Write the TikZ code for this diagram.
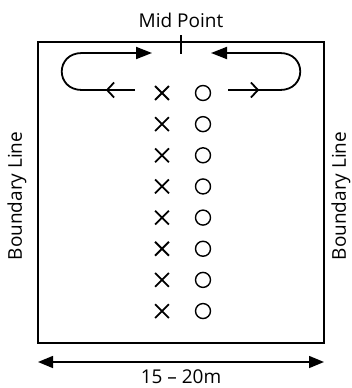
\documentclass[tikz,border=0pt]{standalone}
\usepackage{fontspec}
\setmainfont{Open Sans}
\usetikzlibrary{arrows.meta,shapes.misc,decorations.markings}

\tikzset{
  label/.style={font=\fontsize{19}{21}\selectfont, inner sep=0pt},
  player/.style={cross out, draw, line width=1.8pt, minimum size=12pt, inner sep=0pt},
  cone/.style={circle, draw, line width=1.4pt, minimum size=15pt, inner sep=0pt},
  run/.style={line width=1.8pt, -{Triangle[length=16pt,width=12pt]}},
  back/.style={line width=1.8pt, postaction={decorate}, decoration={markings,
    mark=at position #1 with {\arrow{Straight Barb[length=7pt,width=15pt,line width=1.8pt]}}}},
  measure/.style={line width=1.5pt, {Triangle[length=15pt,width=12pt]}-{Triangle[length=15pt,width=12pt]}}
}

\begin{document}
\begin{tikzpicture}[x=1pt,y=-1pt]
\useasboundingbox (0,0) rectangle (352,388);

% field
\draw [line width=2.6pt] (38,42) rectangle (324,343);
\node [label] (mid) at (181,20) {Mid Point};
\draw [line width=2pt] (181,35) -- (181,54);
\node [label, rotate=90] (bl) at (17,196) {Boundary Line};
\node [label, rotate=90] (br) at (341,196) {Boundary Line};

% two lines of players
\foreach \i in {0,...,7} {
	\node [player] (x\i) at (162,93+31.15*\i) {};
	\node [cone] (o\i) at (203,93+31.15*\i) {};
}

% runs round to the mid point
\coordinate (ls) at (135,90);
\coordinate (lt) at (152,53);
\coordinate (rs) at (228,90);
\coordinate (rt) at (211,53);
\draw [back=0.55] (ls) -- (82,90);
\draw [run] (82,90) .. controls (55,90) and (55,53) .. (82,53) -- (lt);
\draw [back=0.6] (rs) -- (280,90);
\draw [run] (280,90) .. controls (307,90) and (307,53) .. (280,53) -- (rt);

% width
\coordinate (wl) at (38,362);
\coordinate (wr) at (324,362);
\draw [measure] (wl) -- (wr);
\node [label] (width) at (181,377) {15 – 20m};
\end{tikzpicture}
\end{document}
